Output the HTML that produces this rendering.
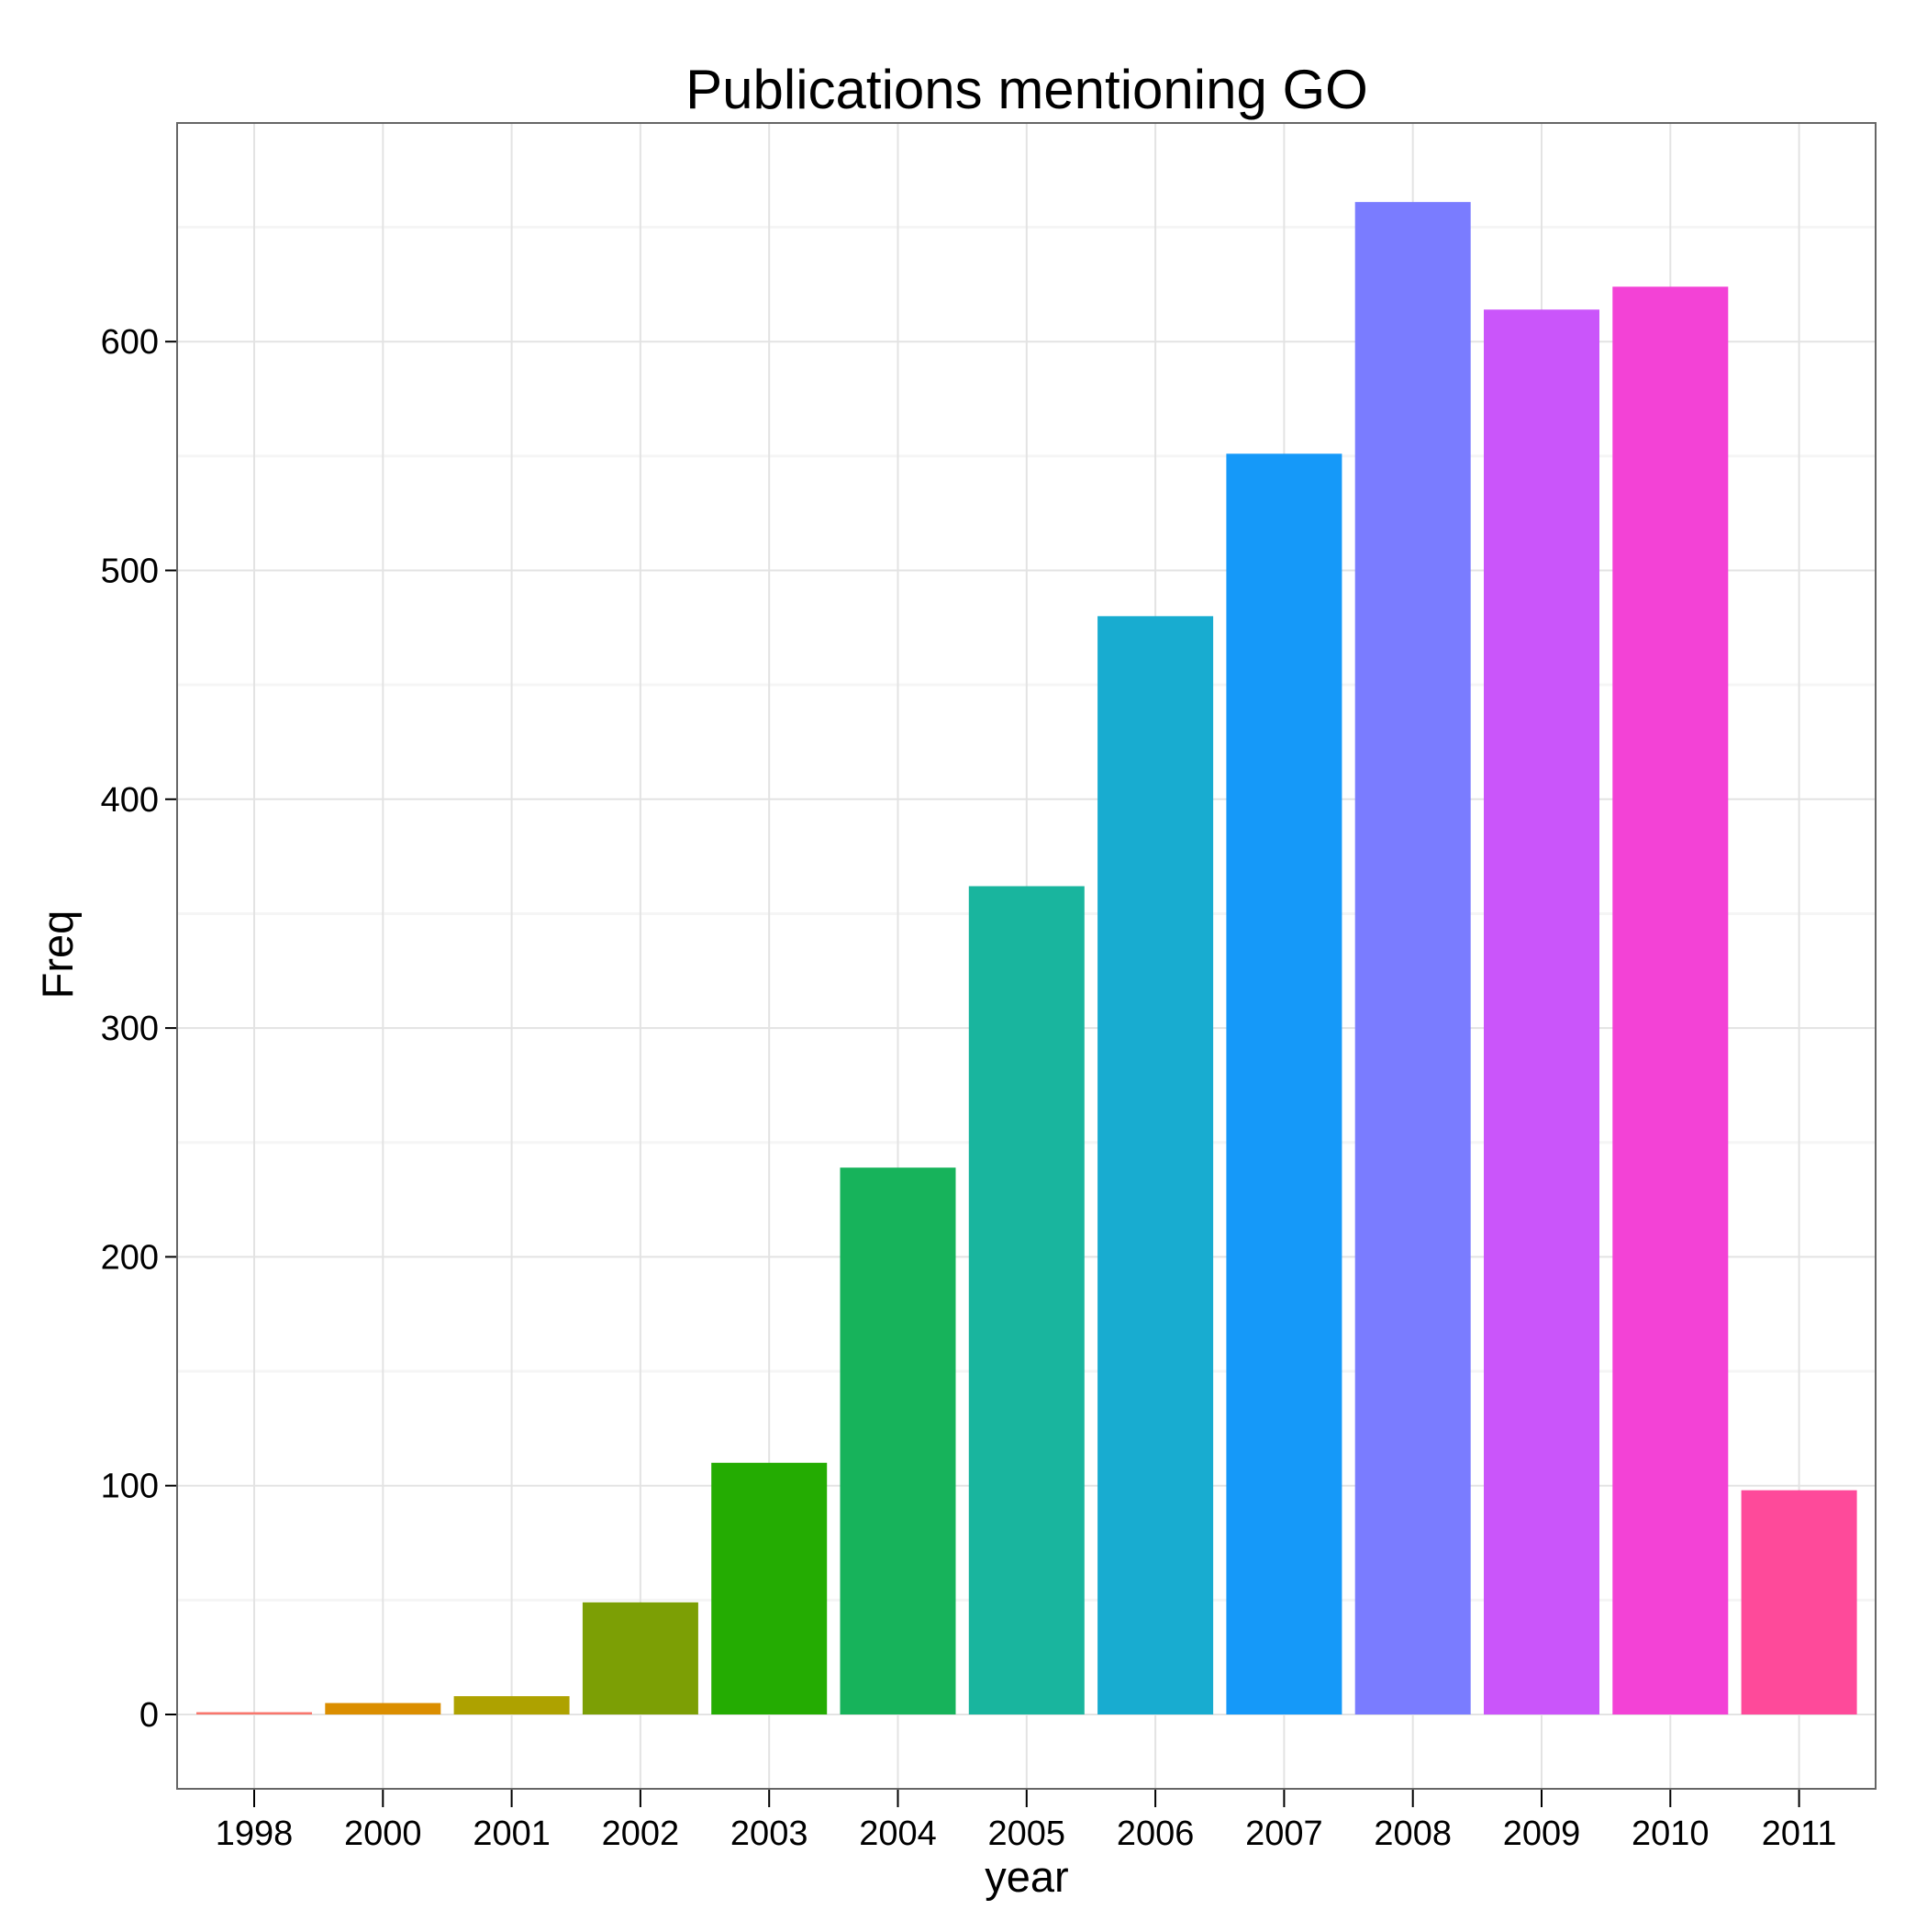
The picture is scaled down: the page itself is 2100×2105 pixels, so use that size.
<!DOCTYPE html>
<html><head><meta charset="utf-8"><style>html,body{margin:0;padding:0;background:#fff}</style></head>
<body>
<svg id="chart" width="2100" height="2100" xmlns="http://www.w3.org/2000/svg" font-family="Liberation Sans, Arial, sans-serif">
<rect width="2100" height="2100" fill="#fff"/>
<text x="1119" y="118" font-size="60" text-anchor="middle">Publications mentioning GO</text>
<g id="grid"></g><g id="bars"></g><g id="axes"></g>
<rect x="193" y="134" width="1851" height="1815" fill="none" stroke="#666" stroke-width="2"/>
<text x="1119" y="2061" font-size="47" text-anchor="middle">year</text>
<text x="0" y="0" font-size="47" text-anchor="middle" transform="translate(79,1040) rotate(-90)">Freq</text>
</svg>
<script>
const categories=["1998","2000","2001","2002","2003","2004","2005","2006","2007","2008","2009","2010","2011"];
const values=[1,5,8,49,110,239,362,480,551,661,614,624,98];
const colors=["#F8766D","#DB8E00","#AEA200","#7C9F05","#24AC02","#17B35B","#19B59E","#18ACD0","#1599F9","#7A7CFF","#CA55FA","#F342D6","#FE4A9A"];
const yTicks=[0,100,200,300,400,500,600];
const yMinor=[50,150,250,350,450,550,650];
const NS="http://www.w3.org/2000/svg";
const L=193,R=2044,T=134,B=1949;
function y(v){return 1868-v*2.493;}
function x(i){return 277+i*140.3;}
const bw=126;
function mk(tag,attrs,parent){const e=document.createElementNS(NS,tag);for(const k in attrs)e.setAttribute(k,attrs[k]);parent.appendChild(e);return e;}
const g=document.getElementById('grid'),b=document.getElementById('bars'),a=document.getElementById('axes');
yMinor.forEach(v=>{const e=mk('line',{x1:L,x2:R,y1:y(v),y2:y(v),stroke:'#f5f5f5','stroke-width':3},g);

});
yTicks.forEach(v=>{const e=mk('line',{x1:L,x2:R,y1:y(v),y2:y(v),stroke:'#e3e3e3','stroke-width':2},g);


const t=mk('line',{x1:L-13,x2:L,y1:y(v),y2:y(v),stroke:'#000','stroke-width':2},a);


const l=mk('text',{x:L-20,y:y(v)+13,'font-size':38,'text-anchor':'end'},a);l.textContent=v;

});
categories.forEach((c,i)=>{const e=mk('line',{x1:x(i),x2:x(i),y1:T,y2:B,stroke:'#e3e3e3','stroke-width':2},g);


const r=mk('rect',{x:x(i)-bw/2,y:y(values[i]),width:bw,height:y(0)-y(values[i]),fill:colors[i]},b);


const t=mk('line',{x1:x(i),x2:x(i),y1:B,y2:B+20,stroke:'#000','stroke-width':2},a);


const l=mk('text',{x:x(i),y:2010,'font-size':38,'text-anchor':'middle'},a);l.textContent=c;

});
</script>
</body></html>
